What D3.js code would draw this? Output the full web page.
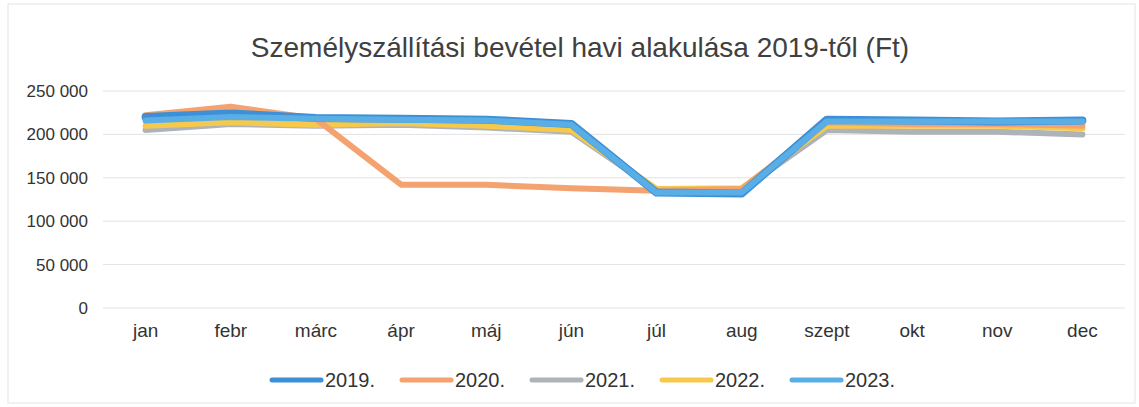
<!DOCTYPE html>
<html>
<head>
<meta charset="utf-8">
<script src="https://cdn.jsdelivr.net/npm/d3@7"></script>
<style>
body{margin:0;background:#fff;}
text{font-family:"Liberation Sans",Arial,sans-serif;}
</style>
</head>
<body>
<svg id="chart"></svg>
<script>
var months=["jan","febr","márc","ápr","máj","jún","júl","aug","szept","okt","nov","dec"];
var years=["2019.","2020.","2021.","2022.","2023."];
var y2019=[220000,224000,219000,218000,217000,212000,133000,132000,217000,216000,215000,216000];
var y2020=[222000,232000,218000,142000,142000,138000,135000,137000,214000,212000,212000,210000];
var y2021=[205000,212000,210000,211000,208000,203000,136000,136000,205000,203000,203000,200000];
var y2022=[210000,214000,211000,213000,210000,205000,137000,138000,210000,210000,210000,207000];
var y2023=[216000,220000,218000,217000,216000,211000,133000,133000,215000,215000,215000,215000];
var yTicks=[0,50000,100000,150000,200000,250000];

var series=[y2019,y2020,y2021,y2022,y2023];
var colors=["#3d8fd6","#f4a270","#aeb3ba","#f7c94a","#5aaee6"];
var widths=[8,6,6,6,6];

var width=1139,height=407;
var margin={left:103,right:14,top:91,bottom:99};

var svg=d3.select("#chart")
  .attr("width",width)
  .attr("height",height);

svg.append("rect")
  .attr("x",8).attr("y",4)
  .attr("width",width-12).attr("height",height-8)
  .attr("fill","none").attr("stroke","#e4e4e4");

var xScale=d3.scaleBand()
  .domain(months)
  .range([margin.left,width-margin.right]);
var yScale=d3.scaleLinear()
  .domain([0,250000])
  .range([height-margin.bottom,margin.top]);

var fmt=function(d){return d3.format(",")(d).replace(/,/g," ");};

// gridlines
svg.append("g")
  .selectAll("line")
  .data(yTicks)
  .enter()
  .append("line")
  .attr("x1",margin.left)
  .attr("x2",width-margin.right)
  .attr("y1",function(d){return yScale(d);})
  .attr("y2",function(d){return yScale(d);})
  .attr("stroke","#e2e2e2")
  .attr("stroke-width",1);

var yAxis=d3.axisLeft(yScale).tickValues(yTicks).tickFormat(fmt).tickSize(0).tickPadding(15);
svg.append("g")
  .attr("transform","translate("+margin.left+",0)")
  .call(yAxis)
  .call(function(g){g.select(".domain").remove();})
  .selectAll("text")
  .attr("font-size",17)
  .attr("fill","#333");

var xAxis=d3.axisBottom(xScale).tickSize(0).tickPadding(16);
svg.append("g")
  .attr("transform","translate(0,"+(height-margin.bottom)+")")
  .call(xAxis)
  .call(function(g){g.select(".domain").remove();})
  .selectAll("text")
  .attr("font-size",19)
  .attr("fill","#333");

var line=d3.line()
  .x(function(d,i){return xScale(months[i])+xScale.bandwidth()/2;})
  .y(function(d){return yScale(d);});

// draw order: gray/yellow/orange under, blues on top
var order=[2,3,1,0,4];
svg.append("g")
  .selectAll("path")
  .data(order)
  .enter()
  .append("path")
  .attr("d",function(k){return line(series[k]);})
  .attr("fill","none")
  .attr("stroke",function(k){return colors[k];})
  .attr("stroke-width",function(k){return widths[k];})
  .attr("stroke-linejoin","round")
  .attr("stroke-linecap","round");

svg.append("text")
  .attr("x",580)
  .attr("y",57)
  .attr("text-anchor","middle")
  .attr("font-size",28)
  .attr("fill","#404040")
  .text("Személyszállítási bevétel havi alakulása 2019-től (Ft)");

var legend=svg.append("g")
  .selectAll("g")
  .data(years)
  .enter()
  .append("g")
  .attr("transform",function(d,i){return "translate("+(272+i*130)+",380)";});
legend.append("line")
  .attr("x1",0).attr("x2",49)
  .attr("y1",0).attr("y2",0)
  .attr("stroke",function(d,i){return colors[i];})
  .attr("stroke-width",5)
  .attr("stroke-linecap","round");
legend.append("text")
  .attr("x",53)
  .attr("y",7)
  .attr("font-size",20)
  .attr("fill","#333")
  .text(function(d){return d;});
</script>
</body>
</html>
